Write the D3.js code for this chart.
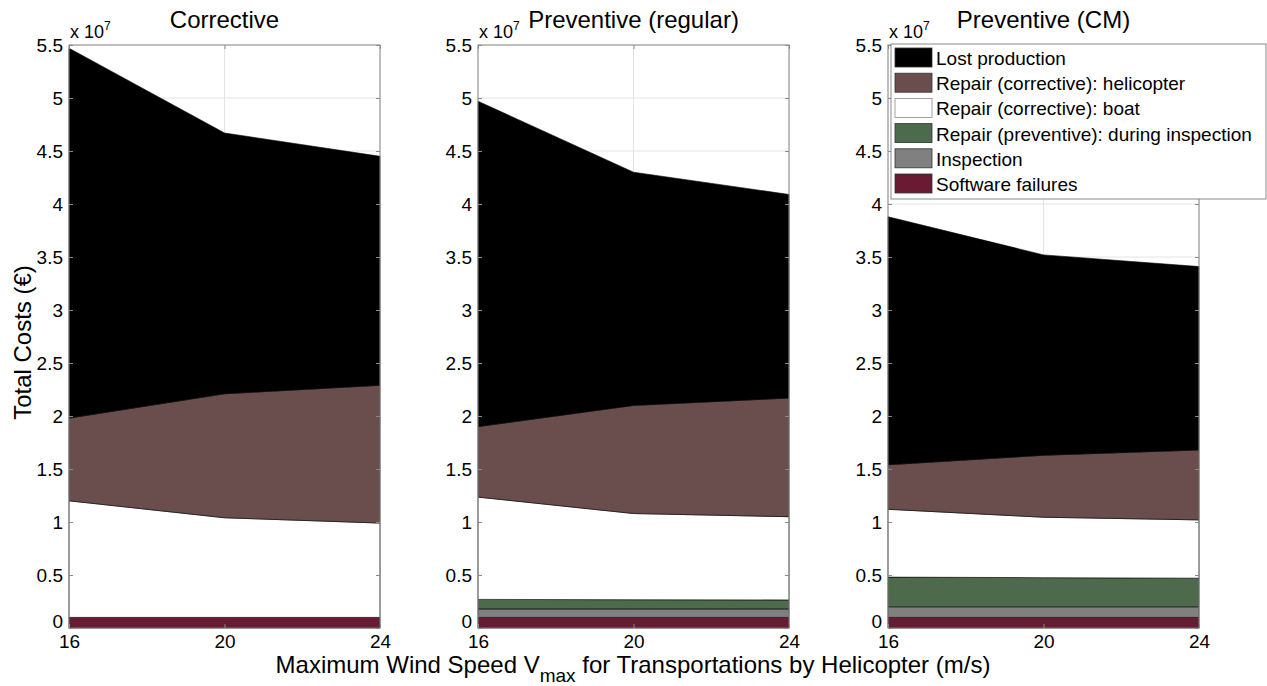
<!DOCTYPE html>
<html>
<head>
<meta charset="utf-8">
<script src="https://cdn.jsdelivr.net/npm/d3@7"></script>
<style>
  body { margin: 0; background: #fff; }
  svg { font-family: "Liberation Sans", Arial, sans-serif; }
</style>
</head>
<body>
<svg id="chart" width="1267" height="686"></svg>
<script>
// values in units of 10^7 EUR, one array per panel: [16, 20, 24] m/s
const speeds = [16, 20, 24];
const panelTitles = ["Corrective", "Preventive (regular)", "Preventive (CM)"];
const yTicks = [0, 0.5, 1, 1.5, 2, 2.5, 3, 3.5, 4, 4.5, 5, 5.5];

const softwareFailures = [[0.10, 0.10, 0.10], [0.10, 0.10, 0.10], [0.10, 0.10, 0.10]];
const inspection       = [[0.00, 0.00, 0.00], [0.08, 0.08, 0.08], [0.10, 0.10, 0.10]];
const repairPreventive = [[0.00, 0.00, 0.00], [0.09, 0.087, 0.085], [0.28, 0.275, 0.27]];
const repairBoat       = [[1.10, 0.94, 0.89], [0.965, 0.813, 0.785], [0.64, 0.57, 0.55]];
const repairHelicopter = [[0.78, 1.17, 1.30], [0.665, 1.02, 1.12], [0.42, 0.585, 0.66]];
const lostProduction   = [[3.49, 2.46, 2.16], [3.07, 2.20, 1.92], [2.34, 1.89, 1.73]];

// legend order (top to bottom)
const legendNames = [
  "Lost production",
  "Repair (corrective): helicopter",
  "Repair (corrective): boat",
  "Repair (preventive): during inspection",
  "Inspection",
  "Software failures"
];
const legendColors = ["#000000", "#6a4d4d", "#ffffff", "#4d6a4c", "#808080", "#6a1a33"];

// stack order bottom to top
const keys = ["software", "inspection", "preventive", "boat", "helicopter", "lost"];
const keyColor = {
  software: "#6a1a33", inspection: "#808080", preventive: "#4d6a4c",
  boat: "#ffffff", helicopter: "#6a4d4d", lost: "#000000"
};

const svg = d3.select("#chart");
const panelLeft = [69, 478, 888];
const plotTop = 45, w = 311, h = 583;

const x = d3.scaleLinear().domain([16, 24]).range([0, w]);
const y = d3.scaleLinear().domain([0, 5.5]).range([h, 0]);

panelTitles.forEach((title, p) => {
  const rows = speeds.map((s, i) => ({
    speed: s,
    software: softwareFailures[p][i],
    inspection: inspection[p][i],
    preventive: repairPreventive[p][i],
    boat: repairBoat[p][i],
    helicopter: repairHelicopter[p][i],
    lost: lostProduction[p][i]
  }));
  const stacked = d3.stack().keys(keys)(rows);

  const g = svg.append("g").attr("transform", `translate(${panelLeft[p]},${plotTop})`);

  // grid
  g.selectAll(".hgrid").data(yTicks).enter().append("line")
    .attr("x1", 0).attr("x2", w)
    .attr("y1", d => y(d)).attr("y2", d => y(d))
    .attr("stroke", "#e4e4e4").attr("stroke-width", 1);
  g.selectAll(".vgrid").data(speeds).enter().append("line")
    .attr("x1", d => x(d)).attr("x2", d => x(d))
    .attr("y1", 0).attr("y2", h)
    .attr("stroke", "#e4e4e4").attr("stroke-width", 1);

  const area = d3.area()
    .x(d => x(d.data.speed))
    .y0(d => y(d[0]))
    .y1(d => y(d[1]));

  g.selectAll(".layer").data(stacked).enter().append("path")
    .attr("d", area)
    .attr("fill", d => keyColor[d.key])
    .attr("stroke", "#000")
    .attr("stroke-width", 0.6);

  // axes box
  g.append("rect").attr("width", w).attr("height", h)
    .attr("fill", "none").attr("stroke", "#8a8a8a").attr("stroke-width", 1);

  const yAxisL = d3.axisLeft(y).tickValues(yTicks).tickSize(-4).tickPadding(6)
    .tickFormat(d3.format("~g"));
  const yAxisR = d3.axisRight(y).tickValues(yTicks).tickSize(-4).tickFormat("");
  const xAxisB = d3.axisBottom(x).tickValues(speeds).tickSize(-4).tickPadding(5);
  const xAxisT = d3.axisTop(x).tickValues(speeds).tickSize(-4).tickFormat("");

  const ax = [
    g.append("g").call(yAxisL),
    g.append("g").attr("transform", `translate(${w},0)`).call(yAxisR),
    g.append("g").attr("transform", `translate(0,${h})`).call(xAxisB),
    g.append("g").call(xAxisT)
  ];
  ax.forEach(a => {
    a.select(".domain").remove();
    a.selectAll("line").attr("stroke", "#8a8a8a");
    a.selectAll("text").attr("fill", "#000").style("font-size", "19px")
      .style("font-family", "'Liberation Sans', Arial, sans-serif");
  });
  ax[0].selectAll("text").attr("dy", "0.34em");
  ax[0].selectAll(".tick").filter(d => d === 0).select("text").attr("dy", "-0.05em");
  ax[2].selectAll("text").attr("dy", "0.78em");

  // exponent
  const ex = g.append("text").attr("x", 1).attr("y", -7)
    .style("font-size", "18px").attr("fill", "#000");
  ex.append("tspan").text("x 10");
  ex.append("tspan").attr("dy", -8).style("font-size", "12px").text("7");

  // title
  g.append("text").attr("x", w / 2).attr("y", -17)
    .attr("text-anchor", "middle").style("font-size", "24px").attr("fill", "#000")
    .text(title);
});

// y label
svg.append("text")
  .attr("transform", `translate(31,${plotTop + h / 2 + 6}) rotate(-90)`)
  .attr("text-anchor", "middle").style("font-size", "24px").attr("fill", "#000")
  .text("Total Costs (€)");

// x label
const xl = svg.append("text").attr("x", 633).attr("y", 673)
  .attr("text-anchor", "middle").style("font-size", "24px").attr("fill", "#000");
xl.append("tspan").text("Maximum Wind Speed V");
xl.append("tspan").attr("dy", 9).style("font-size", "19px").text("max");
xl.append("tspan").attr("dy", -9).text(" for Transportations by Helicopter (m/s)");

// legend
const lg = svg.append("g").attr("transform", "translate(891,44)");
lg.append("rect").attr("width", 375).attr("height", 155)
  .attr("fill", "#fff").attr("stroke", "#8a8a8a").attr("stroke-width", 1);
const items = lg.selectAll(".item").data(legendNames).enter().append("g")
  .attr("transform", (d, i) => `translate(4,${4 + i * 25.2})`);
items.append("rect").attr("width", 37).attr("height", 19)
  .attr("fill", (d, i) => legendColors[i])
  .attr("stroke", (d, i) => i === 2 ? "#8a8a8a" : "#333").attr("stroke-width", 0.8);
items.append("text").attr("x", 41).attr("y", 17)
  .style("font-size", "19px").attr("fill", "#000")
  .text(d => d);
</script>
</body>
</html>
